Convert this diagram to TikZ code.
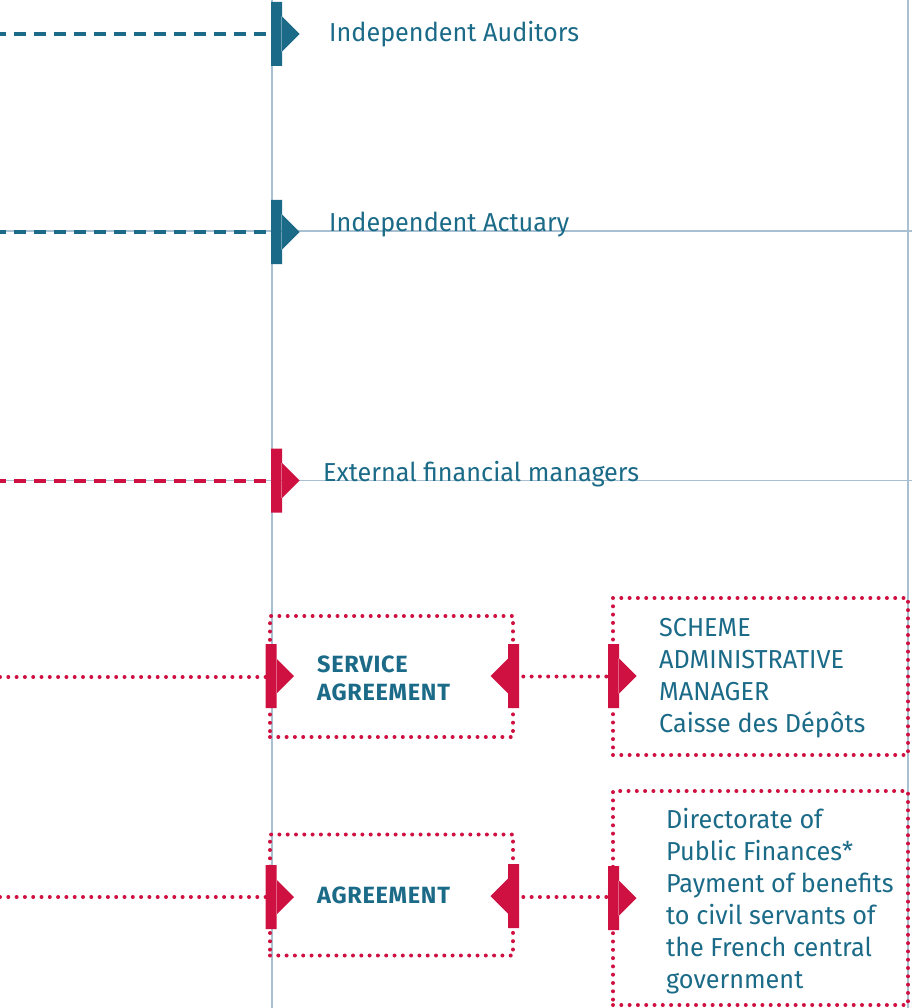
\documentclass[tikz,border=0pt]{standalone}
\usepackage{fontspec}
\setmainfont{Fira Sans}[BoldFont=* Bold, UprightFeatures={FakeStretch=0.97}, BoldFeatures={LetterSpace=3}]
\usetikzlibrary{positioning}
\definecolor{petrol}{HTML}{1B6B88}
\definecolor{crimson}{HTML}{CE1140}
\definecolor{guideblue}{HTML}{A9C0D2}

\begin{document}
\begin{tikzpicture}[x=1pt, y=-1pt,
	guide/.style={guideblue, line width=1.2pt},
	dashlink/.style={line width=4pt, dash pattern=on 12pt off 8pt, dash phase=6pt},
	dotlink/.style={crimson, line width=4pt, line cap=round, dash pattern=on 0pt off 8.3pt},
	dotbox/.style={draw=crimson, line width=4pt, line cap=round, dash pattern=on 0pt off 8.3pt, inner sep=0pt},
	entry/.style={petrol, font=\fontsize{26}{32}\selectfont, inner sep=0pt, align=left},
	tag/.style={petrol, font=\fontsize{23.5}{28}\selectfont\bfseries, inner sep=0pt, align=left},
	flagR/.pic={\fill[#1] (-5.5,-32) rectangle (5.5,32) (5,-18) -- (23,0) -- (5,18) -- cycle;},
	flagL/.pic={\fill[#1] (-5.5,-32) rectangle (5.5,32) (-5,-18) -- (-23,0) -- (-5,18) -- cycle;}]
	\useasboundingbox (0,0) rectangle (912,1008);
	\draw[guide] (272,0) -- (272,1008);
	\draw[guide] (908,0) -- (908,1008);
	\draw[guide] (0,231) -- (912,231);
	\draw[guide] (0,480.5) -- (912,480.5);
	\coordinate (m1) at (276.5,34);
	\coordinate (m2) at (276.5,232);
	\coordinate (m3) at (276.5,480.5);
	\coordinate (a1) at (0,34);
	\coordinate (a2) at (0,232);
	\coordinate (a3) at (0,480.5);
	\draw[dashlink, petrol] (a1) -- (m1);
	\draw[dashlink, petrol] (a2) -- (m2);
	\draw[dashlink, crimson] (a3) -- (m3);
	\node[dotbox, minimum width=243pt, minimum height=121pt] (svc) at (391.5,676.5) {};
	\node[dotbox, minimum width=243pt, minimum height=121pt] (agr) at (391.5,895) {};
	\node[dotbox, minimum width=295pt, minimum height=157pt] (cdc) at (760.5,676.5) {};
	\node[dotbox, minimum width=295pt, minimum height=214pt] (dgfip) at (760.5,898) {};
	\coordinate (a4) at (0,677);
	\coordinate (a5) at (0,897);
	\draw[dotlink] (a4) -- (a4 -| svc.west);
	\draw[dotlink] (a5) -- (a5 -| agr.west);
	\draw[dotlink] (svc.east) -- (svc.east -| cdc.west);
	\draw[dotlink] (agr.east |- a5) -- (a5 -| dgfip.west);
	\pic at (m1) {flagR=petrol};
	\pic at (m2) {flagR=petrol};
	\pic at (m3) {flagR=crimson};
	\pic at (271,676) {flagR=crimson};
	\pic at (513.5,676) {flagL=crimson};
	\pic at (613.5,676) {flagR=crimson};
	\pic at (271,897) {flagR=crimson};
	\pic at (513.5,896) {flagL=crimson};
	\pic at (613.5,898) {flagR=crimson};
	\node[entry, anchor=base west] (aud) at (329,42) {Independent Auditors};
	\node[entry, anchor=base west] (act) at (329,232) {Independent Actuary};
	\node[entry, anchor=base west] (ext) at (323,481) {External financial managers};
	\node[tag, anchor=north west] (svct) at (317,656) {SERVICE\\AGREEMENT};
	\node[tag, anchor=base west] (agrt) at (317,903) {AGREEMENT};
	\node[entry, anchor=north west] (cdct) at (659,618) {SCHEME\\ADMINISTRATIVE\\MANAGER\\Caisse des Dépôts};
	\node[entry, anchor=north west] (dgfipt) at (666,808) {Directorate of\\Public Finances*\\Payment of benefits\\to civil servants of\\the French central\\government};
\end{tikzpicture}
\end{document}
